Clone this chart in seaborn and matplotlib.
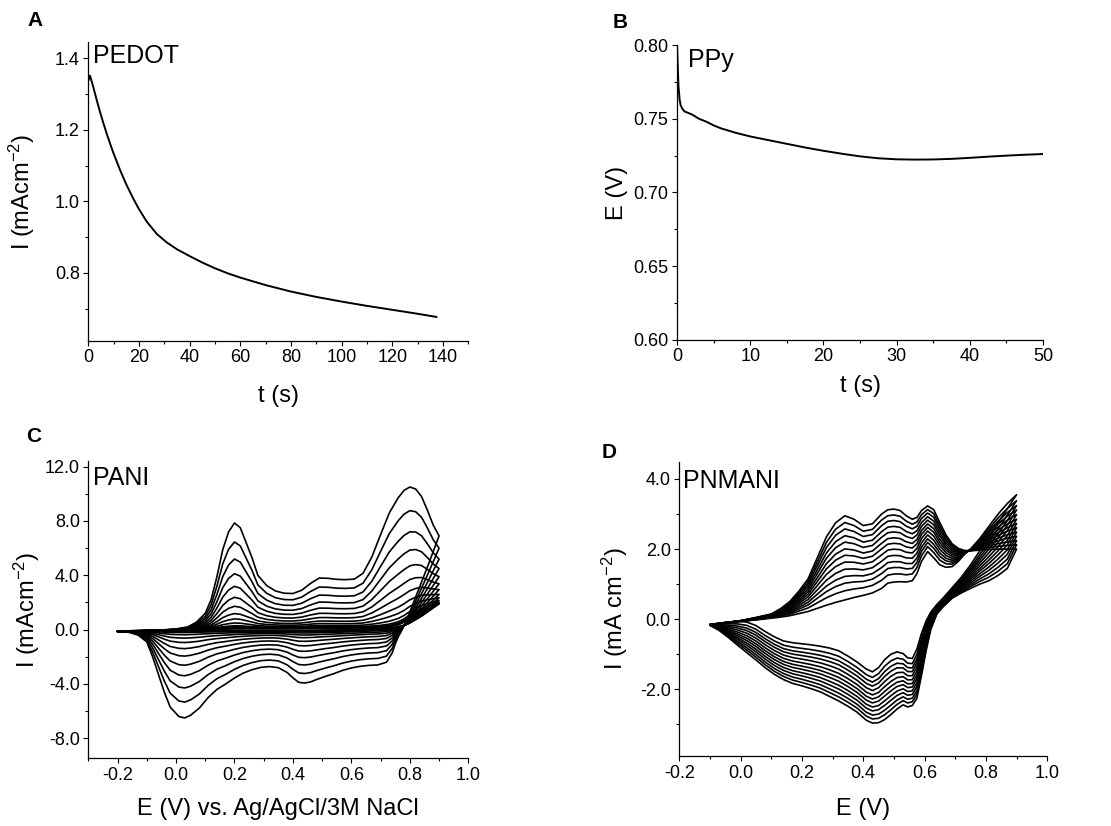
import numpy as np
import pandas as pd
import matplotlib
matplotlib.use("Agg")
import matplotlib.pyplot as plt
import seaborn as sns
from matplotlib.ticker import MultipleLocator, AutoMinorLocator, FormatStrFormatter

sns.set_theme(style="ticks")
plt.rcParams['font.family'] = ['Liberation Sans', 'DejaVu Sans']
plt.rcParams['mathtext.fontset'] = 'custom'
plt.rcParams['mathtext.rm'] = 'Liberation Sans'
plt.rcParams['mathtext.default'] = 'regular'
plt.rcParams['axes.unicode_minus'] = False
for key in ['text.color', 'axes.labelcolor', 'xtick.color', 'ytick.color', 'axes.edgecolor']:
    plt.rcParams[key] = 'black'

# A: PEDOT chronoamperometry
pedot_t = [0, 0.66, 2, 3.3, 4.6, 6, 7.3, 8.6, 10, 12.5, 15, 17.5, 20, 23, 27, 31, 35, 40,
           45, 50, 55, 60, 70, 80, 90, 100, 110, 120, 130, 137.5]
pedot_i = [1.337, 1.351, 1.318, 1.283, 1.25, 1.217, 1.188, 1.161, 1.133, 1.088, 1.047,
           1.011, 0.978, 0.944, 0.909, 0.885, 0.866, 0.847, 0.829, 0.813, 0.799, 0.787,
           0.766, 0.748, 0.733, 0.72, 0.708, 0.697, 0.686, 0.677]

# B: PPy chronopotentiometry
ppy_t = [0, 0.1, 0.2, 0.35, 0.5, 0.7, 1.0, 1.5, 2, 3, 4, 5, 6, 8, 10, 12.5, 15, 17.5, 20,
         22.5, 25, 27.5, 30, 32.5, 35, 37.5, 40, 42.5, 45, 47.5, 50]
ppy_e = [0.80, 0.785, 0.772, 0.763, 0.759, 0.757, 0.755, 0.754, 0.753, 0.750, 0.748, 0.7455,
         0.7435, 0.7405, 0.738, 0.7355, 0.733, 0.7305, 0.7283, 0.7263, 0.7245, 0.7232,
         0.7225, 0.7223, 0.7224, 0.7228, 0.7235, 0.7243, 0.725, 0.7256, 0.7261]

# C: PANI cycles (first and last cycle, forward and reverse scan)
pani_fwd_e = [-0.2, -0.15, -0.1, -0.05, 0.0, 0.04, 0.07, 0.1, 0.12, 0.14, 0.16, 0.18, 0.2,
              0.22, 0.24, 0.26, 0.28, 0.31, 0.34, 0.37, 0.4, 0.43, 0.46, 0.49, 0.52, 0.55,
              0.58, 0.61, 0.64, 0.67, 0.7, 0.73, 0.76, 0.78, 0.8, 0.82, 0.84, 0.86, 0.88, 0.9]
pani_fwd_last = [-0.1, -0.08, -0.06, -0.03, 0.05, 0.2, 0.55, 1.2, 2.2, 3.9, 5.9, 7.2, 7.85,
                 7.5, 6.4, 5.3, 4.0, 3.25, 2.85, 2.68, 2.66, 2.9, 3.4, 3.8, 3.78, 3.7, 3.68,
                 3.72, 4.15, 5.35, 7.0, 8.6, 9.7, 10.25, 10.5, 10.35, 9.8, 8.8, 7.7, 6.9]
pani_fwd_first = [-0.12, -0.1, -0.08, -0.05, -0.02, 0.0, 0.02, 0.04, 0.05, 0.06, 0.07, 0.08,
                  0.1, 0.1, 0.1, 0.1, 0.1, 0.1, 0.1, 0.1, 0.1, 0.1, 0.11, 0.12, 0.12, 0.12,
                  0.12, 0.13, 0.13, 0.14, 0.15, 0.2, 0.35, 0.55, 0.85, 1.1, 1.35, 1.55, 1.75, 1.9]
pani_rev_e = [0.9, 0.88, 0.86, 0.84, 0.82, 0.8, 0.785, 0.77, 0.76, 0.75, 0.74, 0.72, 0.69,
              0.66, 0.63, 0.6, 0.57, 0.54, 0.51, 0.48, 0.46, 0.44, 0.42, 0.4, 0.38, 0.35,
              0.32, 0.29, 0.26, 0.23, 0.2, 0.17, 0.14, 0.11, 0.08, 0.05, 0.03, 0.01, -0.02,
              -0.04, -0.06, -0.08, -0.1, -0.13, -0.16, -0.2]
pani_rev_last = [6.9, 5.75, 4.6, 3.5, 2.4, 1.3, 0.5, -0.15, -0.55, -1.05, -1.7, -2.4, -2.6,
                 -2.63, -2.7, -2.82, -3.0, -3.24, -3.45, -3.68, -3.85, -3.93, -3.88, -3.55,
                 -3.15, -2.8, -2.72, -2.78, -2.95, -3.2, -3.56, -4.0, -4.4, -5.0, -5.77, -6.3,
                 -6.5, -6.4, -5.7, -4.6, -3.3, -2.0, -0.9, -0.4, -0.2, -0.12]
pani_rev_first = [1.9, 1.6, 1.3, 1.0, 0.75, 0.5, 0.35, 0.25, 0.2, 0.15, 0.12, 0.08, 0.05,
                  0.03, 0.0, -0.02, -0.03, -0.04, -0.04, -0.05, -0.05, -0.05, -0.05, -0.05,
                  -0.05, -0.05, -0.05, -0.05, -0.05, -0.05, -0.05, -0.05, -0.05, -0.05,
                  -0.05, -0.05, -0.05, -0.05, -0.06, -0.07, -0.08, -0.09, -0.1, -0.12, -0.13,
                  -0.15]
# anodic peak current near 0.2 V for each cycle
pani_peaks = [0.1, 0.12, 0.15, 0.2, 0.29, 0.49, 0.79, 1.18, 1.72, 2.38, 3.19, 4.12, 5.2,
              6.45, 7.85]

# D: PNMANI cycles
pnm_fwd_e = [-0.1, -0.05, 0.0, 0.05, 0.1, 0.13, 0.16, 0.19, 0.22, 0.25, 0.28, 0.31, 0.34,
             0.37, 0.4, 0.43, 0.46, 0.48, 0.5, 0.52, 0.54, 0.56, 0.575, 0.59, 0.61, 0.63,
             0.65, 0.67, 0.69, 0.71, 0.73, 0.75, 0.78, 0.81, 0.84, 0.87, 0.9]
pnm_fwd_last = [-0.17, -0.1, -0.04, 0.05, 0.15, 0.3, 0.5, 0.8, 1.15, 1.75, 2.35, 2.75, 2.95,
                2.85, 2.67, 2.72, 3.0, 3.12, 3.14, 3.1, 2.95, 2.85, 2.9, 3.1, 3.23, 3.12,
                2.75, 2.4, 2.15, 2.02, 1.96, 1.95, 1.97, 1.99, 2.0, 2.0, 2.0]
pnm_fwd_first = [-0.15, -0.1, -0.06, -0.02, 0.03, 0.06, 0.1, 0.16, 0.22, 0.31, 0.4, 0.48,
                 0.55, 0.62, 0.68, 0.75, 0.88, 1.03, 1.06, 1.07, 1.06, 1.1, 1.3, 1.65, 1.93,
                 1.75, 1.55, 1.48, 1.5, 1.65, 1.85, 2.0, 2.3, 2.65, 3.0, 3.3, 3.55]
pnm_rev_e = [0.9, 0.87, 0.84, 0.81, 0.78, 0.75, 0.72, 0.69, 0.66, 0.64, 0.62, 0.605, 0.59,
             0.575, 0.56, 0.545, 0.53, 0.51, 0.49, 0.47, 0.45, 0.43, 0.41, 0.38, 0.35, 0.32,
             0.29, 0.26, 0.23, 0.2, 0.17, 0.14, 0.11, 0.08, 0.05, 0.02, -0.01, -0.04, -0.07,
             -0.1]
pnm_rev_last = [2.0, 1.45, 1.25, 1.1, 1.0, 0.88, 0.75, 0.6, 0.35, 0.15, -0.3, -0.9, -1.6,
                -2.25, -2.46, -2.5, -2.44, -2.56, -2.72, -2.86, -2.95, -2.96, -2.88, -2.65,
                -2.48, -2.33, -2.2, -2.07, -1.98, -1.9, -1.83, -1.72, -1.57, -1.38, -1.16,
                -0.95, -0.74, -0.52, -0.32, -0.17]
pnm_rev_first = [3.55, 3.15, 2.75, 2.35, 1.95, 1.55, 1.2, 0.9, 0.6, 0.42, 0.2, -0.05, -0.4,
                 -0.85, -1.12, -1.1, -0.98, -0.93, -1.0, -1.15, -1.38, -1.5, -1.42, -1.22,
                 -1.05, -0.9, -0.82, -0.77, -0.73, -0.7, -0.67, -0.62, -0.5, -0.35, -0.18,
                 -0.08, -0.06, -0.08, -0.11, -0.15]
# anodic current near 0.48 V for each cycle
pnm_peaks = [1.03, 1.26, 1.45, 1.62, 1.8, 1.98, 2.15, 2.31, 2.48, 2.64, 2.81, 2.97, 3.14]


def cycles_frame(fwd_e, fwd_a, fwd_b, rev_e, rev_a, rev_b, peaks):
    # each cycle sits between first and last cycle, placed by its read peak height
    e = np.concatenate([fwd_e, rev_e])
    first = np.concatenate([fwd_a, rev_a])
    last = np.concatenate([fwd_b, rev_b])
    frames = []
    for k, p in enumerate(peaks):
        w = (p - peaks[0]) / (peaks[-1] - peaks[0])
        frames.append(pd.DataFrame({'E': e, 'I': first + w * (last - first),
                                    'cycle': k, 'step': np.arange(len(e))}))
    return pd.concat(frames, ignore_index=True)


pani_df = cycles_frame(pani_fwd_e, pani_fwd_first, pani_fwd_last,
                       pani_rev_e, pani_rev_first, pani_rev_last, pani_peaks)
pnm_df = cycles_frame(pnm_fwd_e, pnm_fwd_first, pnm_fwd_last,
                      pnm_rev_e, pnm_rev_first, pnm_rev_last, pnm_peaks)

fig = plt.figure(figsize=(11.11, 8.26), dpi=100)
axA = fig.add_axes([0.0795, 0.5872, 0.342, 0.362])
axB = fig.add_axes([0.6094, 0.5884, 0.3294, 0.3571])
axC = fig.add_axes([0.0795, 0.0820, 0.342, 0.3603])
axD = fig.add_axes([0.6114, 0.0847, 0.3312, 0.3563])

lw = 1.4
sns.lineplot(x=pedot_t, y=pedot_i, color='black', lw=lw, ax=axA)
sns.lineplot(x=ppy_t, y=ppy_e, color='black', lw=lw, ax=axB, sort=False)
sns.lineplot(data=pani_df, x='E', y='I', units='cycle', estimator=None, sort=False,
             color='black', lw=1.2, ax=axC, legend=False)
sns.lineplot(data=pnm_df, x='E', y='I', units='cycle', estimator=None, sort=False,
             color='black', lw=1.2, ax=axD, legend=False)

axA.set_xlim(0, 150)
axA.set_ylim(0.61, 1.445)
axA.xaxis.set_major_locator(MultipleLocator(20))
axA.yaxis.set_major_locator(MultipleLocator(0.2))
axA.yaxis.set_major_formatter(FormatStrFormatter('%.1f'))

axB.set_xlim(0, 50)
axB.set_ylim(0.6, 0.8)
axB.xaxis.set_major_locator(MultipleLocator(10))
axB.yaxis.set_major_locator(MultipleLocator(0.05))
axB.yaxis.set_major_formatter(FormatStrFormatter('%.2f'))

axC.set_xlim(-0.3, 1.0)
axC.set_ylim(-9.47, 12.44)
axC.xaxis.set_major_locator(MultipleLocator(0.2))
axC.yaxis.set_major_locator(MultipleLocator(4))
axC.xaxis.set_major_formatter(FormatStrFormatter('%.1f'))
axC.yaxis.set_major_formatter(FormatStrFormatter('%.1f'))

axD.set_xlim(-0.2, 1.0)
axD.set_ylim(-3.9, 4.49)
axD.xaxis.set_major_locator(MultipleLocator(0.2))
axD.yaxis.set_major_locator(MultipleLocator(2))
axD.xaxis.set_major_formatter(FormatStrFormatter('%.1f'))
axD.yaxis.set_major_formatter(FormatStrFormatter('%.1f'))

labels = {
    axA: ('t (s)', 'I (mAcm$^{-2}$)', -0.147, -0.134, 'PEDOT', 0.013, 0.93),
    axB: ('t (s)', 'E (V)', -0.119, -0.134, 'PPy', 0.030, 0.925),
    axC: ('E (V) vs. Ag/AgCl/3M NaCl', 'I (mAcm$^{-2}$)', -0.133, -0.121, 'PANI', 0.013, 0.918),
    axD: ('E (V)', 'I (mA cm$^{-2}$)', -0.143, -0.134, 'PNMANI', 0.010, 0.911),
}
for ax, (xl, yl, xly, ylx, name, tx, ty) in labels.items():
    ax.set_xlabel(xl, fontsize=17)
    ax.set_ylabel(yl, fontsize=17)
    ax.xaxis.set_label_coords(0.5, xly)
    ax.yaxis.set_label_coords(ylx, 0.5)
    ax.xaxis.label.set_va('top')
    ax.text(tx, ty, name, transform=ax.transAxes, fontsize=18, va='baseline', ha='left')
    ax.xaxis.set_minor_locator(AutoMinorLocator(2))
    ax.yaxis.set_minor_locator(AutoMinorLocator(2))
    ax.tick_params(which='major', direction='out', length=3.6, width=0.8,
                   labelsize=13, pad=2.5, colors='black')
    ax.tick_params(which='minor', direction='out', length=2.0, width=0.8)
    for side in ['top', 'right']:
        ax.spines[side].set_visible(False)
    for side in ['left', 'bottom']:
        ax.spines[side].set_linewidth(0.9)
        ax.spines[side].set_color('black')

for letter, x, y in [('A', 0.0243, 0.9746), ('B', 0.5518, 0.973),
                     ('C', 0.0234, 0.471), ('D', 0.5419, 0.4516)]:
    fig.text(x, y, letter, fontsize=15, fontweight='bold', va='center', ha='left')

fig.savefig('out.png', dpi=100)
